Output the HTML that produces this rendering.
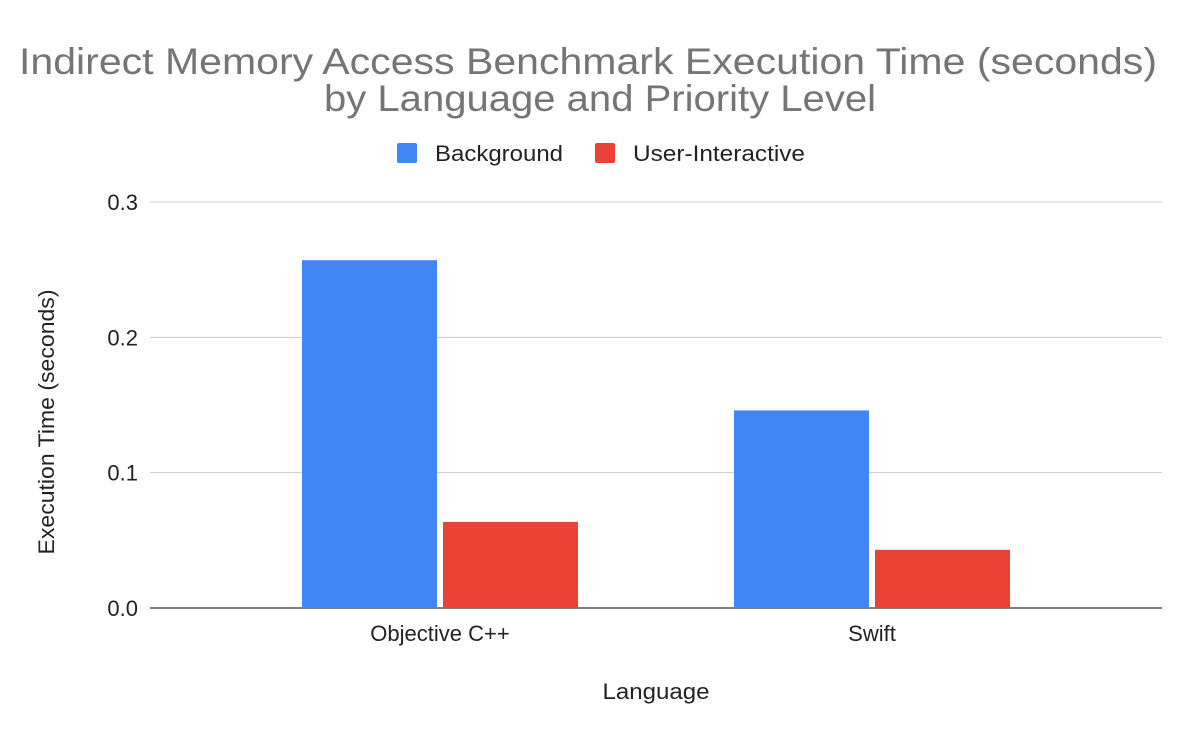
<!DOCTYPE html>
<html><head><meta charset="utf-8"><style>
body{margin:0;background:#fff;font-family:"Liberation Sans",Arial,sans-serif;}
svg text{font-family:"Liberation Sans",Arial,sans-serif;}
</style></head><body>
<svg width="1200" height="742" viewBox="0 0 1200 742">
<text x="588" y="74" text-anchor="middle" font-size="37" fill="#757575" textLength="1138" lengthAdjust="spacingAndGlyphs">Indirect Memory Access Benchmark Execution Time (seconds)</text>
<text x="600" y="111" text-anchor="middle" font-size="37" fill="#757575" textLength="552" lengthAdjust="spacingAndGlyphs">by Language and Priority Level</text>
<g>
<rect x="397" y="143" width="20" height="20" rx="2" fill="#4285f4"/>
<text x="435" y="161" font-size="22" fill="#222" textLength="128" lengthAdjust="spacingAndGlyphs">Background</text>
<rect x="595" y="143" width="20" height="20" rx="2" fill="#ea4335"/>
<text x="633" y="161" font-size="22" fill="#222" textLength="172" lengthAdjust="spacingAndGlyphs">User-Interactive</text>
</g>
<g id="grid"></g>
<g id="bars"></g>
<g id="xlabels"></g>
<text x="656" y="699" text-anchor="middle" font-size="22" fill="#222" textLength="107" lengthAdjust="spacingAndGlyphs">Language</text>
<text transform="translate(54,422) rotate(-90)" text-anchor="middle" font-size="22" fill="#222" textLength="265" lengthAdjust="spacingAndGlyphs">Execution Time (seconds)</text>
</svg>
<script>
const categories=["Objective C++","Swift"];
const background=[0.257,0.146];
const userInteractive=[0.0636,0.043];
const yTicks=[0,0.1,0.2,0.3];
const yTickLabels=["0.0","0.1","0.2","0.3"];
const NS="http://www.w3.org/2000/svg";
const y0=608,yTop=202,yMax=0.3;
function y(v){return y0-(v/yMax)*(y0-yTop);}
const bandStart=224,bandW=432,barW=135,gap=6;
function bandCenter(i){return bandStart+bandW*(i+0.5);}
const grid=document.getElementById('grid');
yTicks.forEach((t,i)=>{
 const l=document.createElementNS(NS,'line');
 l.setAttribute('x1',150);l.setAttribute('x2',1162);
 l.setAttribute('y1',y(t));l.setAttribute('y2',y(t));
 l.setAttribute('stroke',t===0?'#333':'#ccc');l.setAttribute('stroke-width',t===0?1.3:1);
 
 
 grid.appendChild(l);
 const tx=document.createElementNS(NS,'text');
 tx.setAttribute('x',138);tx.setAttribute('y',y(t)+8);tx.setAttribute('text-anchor','end');
 tx.setAttribute('font-size','22');tx.setAttribute('fill','#222');
 tx.textContent=yTickLabels[i];
 
 
 grid.appendChild(tx);
});
const bars=document.getElementById('bars');
const xl=document.getElementById('xlabels');
categories.forEach((c,i)=>{
 const cx=bandCenter(i);
 [[background[i],'#4285f4',cx-gap/2-barW,'bar-background'],[userInteractive[i],'#ea4335',cx+gap/2,'bar-user-interactive']].forEach(([v,col,x,n])=>{
  const r=document.createElementNS(NS,'rect');
  r.setAttribute('x',x);r.setAttribute('y',y(v));r.setAttribute('width',barW);
  r.setAttribute('height',y0-y(v));r.setAttribute('fill',col);
  
  
  bars.appendChild(r);
 });
 const t=document.createElementNS(NS,'text');
 t.setAttribute('x',cx);t.setAttribute('y',641);t.setAttribute('text-anchor','middle');
 t.setAttribute('font-size','22');t.setAttribute('fill','#222');t.textContent=c;
 
 
 xl.appendChild(t);
});
</script>
</body></html>
